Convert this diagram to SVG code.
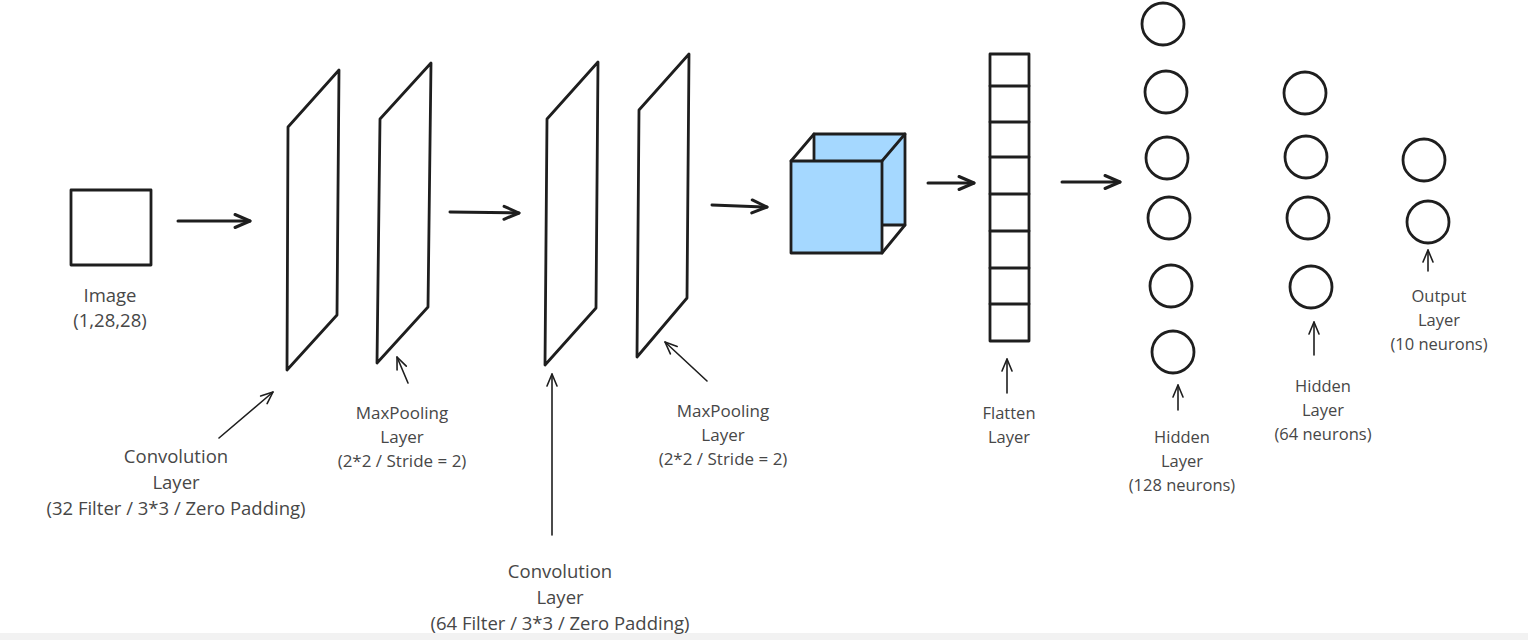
<svg xmlns="http://www.w3.org/2000/svg" width="1528" height="640" viewBox="0 0 1528 640">
<defs>
<style>
.sh{fill:none;stroke:#1e1e1e;stroke-width:2.8;stroke-linejoin:round;stroke-linecap:round}
.blue{fill:#a5d8ff;stroke:#1e1e1e;stroke-width:2.8;stroke-linejoin:round}
.main{fill:none;stroke:#1e1e1e;stroke-width:3;stroke-linecap:round;marker-end:url(#hThick)}
.thin{fill:none;stroke:#1e1e1e;stroke-width:1.6;stroke-linecap:round;marker-end:url(#hThin)}
text{font-family:"Open Sans","Liberation Sans",sans-serif;fill:#474747;text-anchor:middle}
.t18{font-size:18.5px}
.t17{font-size:17px}
.t16{font-size:16.5px}
</style>
<marker id="hThick" markerUnits="userSpaceOnUse" viewBox="-18 -10 22 20" refX="0" refY="0" markerWidth="22" markerHeight="20" orient="auto" overflow="visible">
<path d="M-15,-6.5 L0,0 L-15,6.5" fill="none" stroke="#1e1e1e" stroke-width="3" stroke-linecap="round" stroke-linejoin="round"/>
</marker>
<marker id="hThin" markerUnits="userSpaceOnUse" viewBox="-14 -8 18 16" refX="0" refY="0" markerWidth="18" markerHeight="16" orient="auto" overflow="visible">
<path d="M-12,-5 L0,0 L-12,5" fill="none" stroke="#1e1e1e" stroke-width="1.6" stroke-linecap="round" stroke-linejoin="round"/>
</marker>
</defs>
<rect x="0" y="0" width="1528" height="640" fill="#ffffff"/>
<rect x="0" y="633" width="1528" height="7" fill="#f2f2f2"/>

<g id="image">
<rect class="sh" x="71" y="190" width="80" height="75"/>
<text class="t18" x="110" y="302">Image</text>
<text class="t18" x="110" y="327">(1,28,28)</text>
</g>

<g id="conv1">
<polygon class="sh" points="288,127 339,70 337,315 287,370"/>
<text class="t18" x="176" y="463">Convolution</text>
<text class="t18" x="176" y="489">Layer</text>
<text class="t18" x="176" y="515">(32 Filter / 3*3 / Zero Padding)</text>
</g>

<g id="pool1">
<polygon class="sh" points="380,119 431,63 428,307 377,363"/>
<text class="t17" x="402" y="419">MaxPooling</text>
<text class="t17" x="402" y="443">Layer</text>
<text class="t17" x="402" y="467">(2*2 / Stride = 2)</text>
</g>

<g id="conv2">
<polygon class="sh" points="547,119 598,62 596,308 545,365"/>
<text class="t18" x="560" y="578">Convolution</text>
<text class="t18" x="560" y="604">Layer</text>
<text class="t18" x="560" y="630">(64 Filter / 3*3 / Zero Padding)</text>
</g>

<g id="pool2">
<polygon class="sh" points="639,110 689,54 687,298 637,357"/>
<text class="t17" x="723" y="417">MaxPooling</text>
<text class="t17" x="723" y="441">Layer</text>
<text class="t17" x="723" y="465">(2*2 / Stride = 2)</text>
</g>

<g id="cube">
<rect class="blue" x="814" y="134" width="91" height="91"/>
<line class="sh" x1="791" y1="161" x2="814" y2="134"/>
<line class="sh" x1="882" y1="161" x2="905" y2="134"/>
<line class="sh" x1="882" y1="253" x2="905" y2="225"/>
<rect class="blue" x="791" y="161" width="91" height="92"/>
</g>

<g id="flatten">
<rect class="sh" x="990" y="54" width="39" height="287"/>
<path class="sh" d="M990,86 H1029 M990,122 H1029 M990,157 H1029 M990,194 H1029 M990,231 H1029 M990,268 H1029 M990,304 H1029"/>
<text class="t16" x="1009" y="419">Flatten</text>
<text class="t16" x="1009" y="443">Layer</text>
</g>

<g id="hidden1">
<circle class="sh" cx="1163" cy="24" r="21"/>
<circle class="sh" cx="1166" cy="92" r="21"/>
<circle class="sh" cx="1167" cy="158" r="21"/>
<circle class="sh" cx="1169" cy="218" r="21"/>
<circle class="sh" cx="1171" cy="286" r="21"/>
<circle class="sh" cx="1173" cy="352" r="21"/>
<text class="t16" x="1182" y="443">Hidden</text>
<text class="t16" x="1182" y="467">Layer</text>
<text class="t16" x="1182" y="491">(128 neurons)</text>
</g>

<g id="hidden2">
<circle class="sh" cx="1305" cy="93" r="21"/>
<circle class="sh" cx="1306" cy="157" r="21"/>
<circle class="sh" cx="1308" cy="218" r="21"/>
<circle class="sh" cx="1311" cy="287" r="21"/>
<text class="t16" x="1323" y="392">Hidden</text>
<text class="t16" x="1323" y="416">Layer</text>
<text class="t16" x="1323" y="440">(64 neurons)</text>
</g>

<g id="output">
<circle class="sh" cx="1424" cy="160" r="21"/>
<circle class="sh" cx="1428" cy="222" r="21"/>
<text class="t16" x="1439" y="302">Output</text>
<text class="t16" x="1439" y="326">Layer</text>
<text class="t16" x="1439" y="350">(10 neurons)</text>
</g>

<g id="connectors">
<line class="main" x1="178" y1="221" x2="250" y2="221"/>
<line class="main" x1="450" y1="212" x2="519" y2="213"/>
<line class="main" x1="712" y1="205" x2="767" y2="207"/>
<line class="main" x1="928" y1="183" x2="974" y2="183"/>
<line class="main" x1="1062" y1="182" x2="1120" y2="182"/>
<line class="thin" x1="219" y1="438" x2="273" y2="392"/>
<line class="thin" x1="408" y1="383" x2="397" y2="357"/>
<line class="thin" x1="552" y1="535" x2="552" y2="374"/>
<line class="thin" x1="707" y1="381" x2="665" y2="342"/>
<line class="thin" x1="1007" y1="393" x2="1007" y2="359"/>
<line class="thin" x1="1178" y1="410" x2="1178" y2="385"/>
<line class="thin" x1="1314" y1="355" x2="1314" y2="322"/>
<line class="thin" x1="1428" y1="271" x2="1428" y2="250"/>
</g>
</svg>
